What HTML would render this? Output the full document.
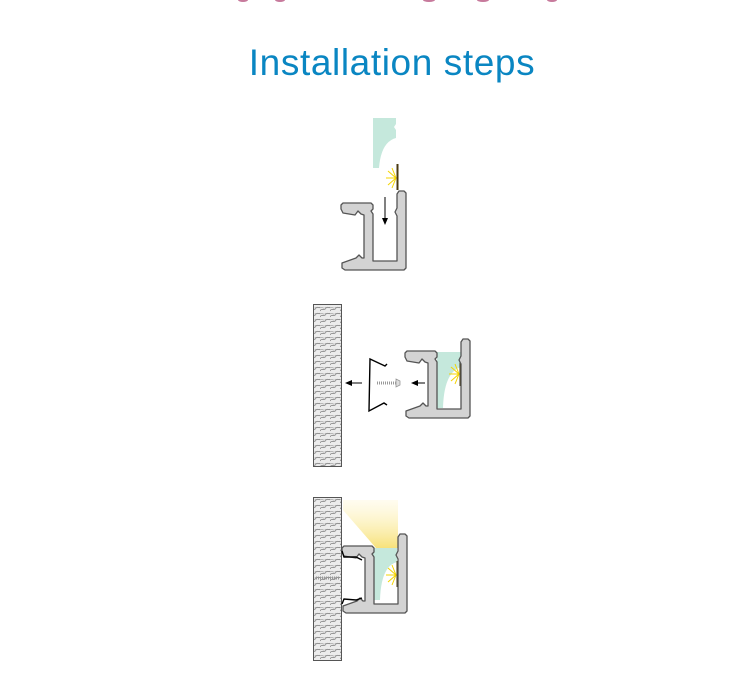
<!DOCTYPE html>
<html><head><meta charset="utf-8"><style>
html,body{margin:0;padding:0;background:#fff;}
svg{display:block;}
</style></head><body>
<svg width="735" height="675" viewBox="0 0 735 675" xmlns="http://www.w3.org/2000/svg">
<defs>
<pattern id="wood" width="10" height="6" patternUnits="userSpaceOnUse">
<rect width="10" height="6" fill="#ececec"/>
<path d="M0,5 C2,1 4,6 6,2 C8,0 9,3 10,1" stroke="#808080" stroke-width="0.8" fill="none"/>
<path d="M0,2 C2,0 4,4 6,1" stroke="#999" stroke-width="0.6" fill="none"/>
</pattern>
<linearGradient id="glow" x1="0" y1="0" x2="0" y2="1">
<stop offset="0" stop-color="#fff6cc" stop-opacity="0.3"/>
<stop offset="1" stop-color="#f7e27a"/>
</linearGradient>
<g id="prof">
<path d="M343,203 L371,203 L373,205 L373,209 L371,211 L373,214 L373,261 L397,261 L397,216 L395,212 L397,208 L397,194 L399,191 L404,191 L406,193 L406,268 L404,270 L345,270 L342,268 L342,263 L356,258 L359,255 L362,258 L364,258 L364,215 L361,214 L358,211 L355,215 L343,213 L341,209 L341,205 Z" fill="#d3d3d3" stroke="#555" stroke-width="1.3" stroke-linejoin="round"/>
</g>
<g id="led">
<line x1="397.5" y1="164" x2="397.5" y2="190" stroke="#4a3a10" stroke-width="2"/>
<g stroke="#f4d400" stroke-width="1">
<line x1="396" y1="178" x2="386" y2="178"/><line x1="396" y1="178" x2="388" y2="171"/><line x1="396" y1="178" x2="388" y2="185"/><line x1="396" y1="178" x2="392" y2="168"/><line x1="396" y1="178" x2="392" y2="188"/>
</g>
</g>
</defs>

<g fill="#c77a9c">
<ellipse cx="243" cy="0" rx="5" ry="2"/><ellipse cx="280" cy="0" rx="5" ry="2"/><ellipse cx="429" cy="0" rx="6" ry="2"/><ellipse cx="483" cy="0" rx="6" ry="2"/><ellipse cx="552" cy="0" rx="5" ry="2"/>
</g>
<text x="392" y="75" text-anchor="middle" font-family="'Liberation Sans',sans-serif" font-size="37" letter-spacing="0.6" fill="#0a86c2">Installation steps</text>

<!-- Step 1 -->
<path d="M373,118 L396,118 L396,124 L394,127 L396,130 L396,138 Q381,142 379,168 L373,168 Z" fill="#c5e8dc"/>
<use href="#led"/>
<use href="#prof"/>
<line x1="385" y1="197" x2="385" y2="219" stroke="#000" stroke-width="1"/>
<path d="M382,218 L388,218 L385,225 Z" fill="#000"/>

<!-- Step 2 -->
<rect x="313.5" y="304.5" width="28" height="162" fill="url(#wood)" stroke="#555" stroke-width="1"/>
<line x1="362" y1="383" x2="350" y2="383" stroke="#000"/><path d="M345,383 L352,380 L352,386 Z" fill="#000"/>
<path d="M387,364 L385,366 L370,359 L369,411 L384,403 L387,405" fill="none" stroke="#000" stroke-width="1.4"/>
<line x1="377" y1="383" x2="396" y2="383" stroke="#999" stroke-width="3" stroke-dasharray="1 1"/>
<path d="M396,379 L400,381 L400,385 L396,387 Z" fill="#ddd" stroke="#999" stroke-width="0.8"/>
<line x1="425" y1="383" x2="416" y2="383" stroke="#000"/><path d="M411,383 L418,380 L418,386 Z" fill="#000"/>
<path d="M437,352 L461,352 L461,367 Q444,372 443,408 L437,408 Z" fill="#c5e8dc"/>
<g transform="translate(63,196)"><use href="#led"/></g>
<g transform="translate(64,148)"><use href="#prof"/></g>

<!-- Step 3 -->
<polygon points="343,500 398,500 398,548 376,548 343,510" fill="url(#glow)"/>
<path d="M373,548 L397,548 L397,562 Q381,566 380,600 L373,600 Z" fill="#c5e8dc"/>
<g transform="translate(0,397)"><use href="#led"/></g>
<rect x="313.5" y="497.5" width="28" height="163" fill="url(#wood)" stroke="#555" stroke-width="1"/>
<line x1="316" y1="578" x2="340" y2="578" stroke="#999" stroke-width="3" stroke-dasharray="1 1"/>
<g transform="translate(1,343)"><use href="#prof"/></g>
<path d="M342,551 L344,557 L356,557 L362,560" fill="none" stroke="#000" stroke-width="1.4"/>
<path d="M342,604 L344,599 L356,600 L362,598" fill="none" stroke="#000" stroke-width="1.4"/>
</svg>
</body></html>
